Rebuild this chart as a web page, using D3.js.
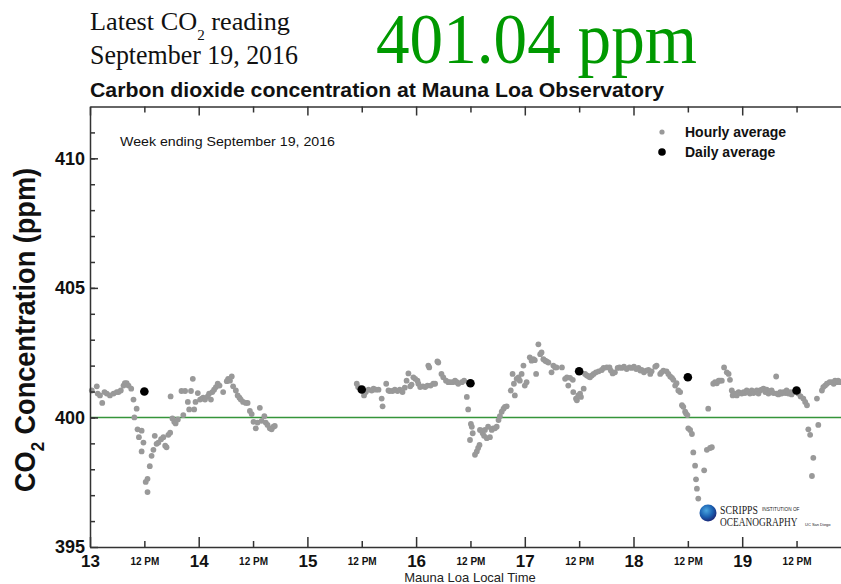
<!DOCTYPE html>
<html><head><meta charset="utf-8">
<script src="https://cdn.jsdelivr.net/npm/d3@7"></script>
<style>body{margin:0;background:#fff;overflow:hidden}svg{display:block}</style>
</head><body>
<svg id="chart" width="841" height="584"></svg>
<script>
// hours since Sept 13 00:00 local time, ppm
const hourlyReadings = [
[0.4,401.04],[1.5,401.20],[1.7,400.92],[2.2,400.85],[2.7,400.56],[3.2,400.98],[3.7,400.92],[4.4,400.85],[5.2,400.92],[5.9,400.98],[6.3,400.98],[6.8,401.04],[7.4,401.23],[7.7,401.32],[8.1,401.32],[8.5,401.23],[9.1,401.11],[9.6,400.69],[9.8,400.00],[10.3,400.34],[10.5,399.54],[10.8,399.24],[11.4,399.49],[11.4,398.69],[11.8,399.03],[12.3,397.51],[12.7,397.63],[12.7,397.12],[13.2,398.12],[13.6,398.52],[14.0,398.75],[14.3,399.29],[14.7,398.98],[15.1,399.03],[15.7,399.16],[16.2,399.24],[16.6,398.91],[16.9,398.85],[17.3,399.33],[17.7,399.41],[17.8,400.81],[18.2,399.96],[18.6,399.83],[18.9,399.77],[19.4,399.92],[20.2,401.02],[20.6,400.09],[21.0,401.02],[21.6,400.60],[21.9,400.31],[22.3,401.02],[22.7,401.49],[23.0,400.31],[23.3,400.60],[23.8,400.94],[24.3,400.69],[24.7,400.73],[25.0,400.76],[25.4,400.69],[26.0,400.81],[26.3,400.92],[26.7,400.69],[27.0,400.98],[27.4,401.07],[27.8,401.17],[28.2,401.30],[28.6,401.23],[29.4,400.98],[30.2,401.40],[30.5,401.49],[30.9,401.42],[31.3,401.58],[31.6,401.20],[32.2,401.04],[32.6,400.85],[33.0,400.76],[33.3,400.69],[33.8,400.60],[34.4,400.56],[34.8,400.56],[35.3,400.25],[35.7,400.13],[36.1,399.83],[36.6,399.58],[37.0,399.80],[37.5,400.37],[37.9,399.87],[38.5,400.05],[38.8,399.80],[39.2,399.71],[39.7,399.58],[40.1,399.54],[40.5,399.64],[40.8,399.67],
[58.9,401.30],[59.2,401.17],[60.5,400.85],[60.9,400.98],[61.5,401.07],[62.2,401.04],[62.6,401.11],[63.1,401.07],[63.7,401.07],[64.4,400.73],[64.6,400.43],[65.4,401.30],[65.9,401.04],[66.2,401.02],[66.8,401.02],[67.3,401.07],[67.9,401.02],[68.4,401.07],[69.0,400.98],[69.5,401.15],[69.9,401.42],[70.3,401.70],[70.7,401.20],[71.0,401.27],[71.4,401.55],[71.8,401.49],[72.3,401.42],[72.5,401.30],[72.9,401.17],[73.5,401.20],[74.0,401.17],[74.5,401.23],[74.7,402.00],[74.9,401.93],[75.2,401.23],[75.8,401.30],[76.2,401.30],[76.7,402.16],[76.9,402.12],[77.6,401.68],[78.0,401.55],[78.6,401.42],[79.1,401.36],[79.5,401.36],[80.1,401.36],[80.6,401.42],[81.0,401.36],[81.3,401.30],[82.1,401.36],[82.6,401.42],[83.2,400.79],[83.5,400.31],[83.9,399.13],[84.1,399.75],[84.3,399.64],[84.5,399.39],[85.0,398.56],[85.4,398.69],[85.7,398.82],[86.0,398.94],[86.1,399.52],[86.5,399.49],[86.7,399.39],[87.0,399.29],[87.2,399.52],[87.6,399.20],[87.9,399.64],[88.3,399.24],[88.7,399.52],[89.0,399.58],[89.4,399.58],[89.8,399.64],[90.2,399.90],[90.5,400.05],[90.9,400.22],[91.3,400.34],[91.6,400.41],[92.0,400.43],[92.9,401.04],[93.3,401.68],[93.6,401.30],[93.8,400.85],[94.2,401.49],[94.6,401.55],[94.9,401.42],[95.3,401.68],[95.7,402.00],[96.0,401.23],[96.4,401.36],[97.1,402.32],[97.5,402.19],[97.9,402.25],[98.2,402.21],[98.5,401.68],[99.0,402.82],[99.4,402.44],[99.7,402.51],[100.1,402.25],[100.5,402.19],[100.8,402.16],[101.2,402.12],[101.9,401.74],[102.3,402.00],[102.7,401.93],[103.0,401.93],
[104.2,401.93],[104.9,401.49],[105.3,401.55],[105.6,401.23],[106.0,401.53],[106.6,401.45],[106.7,400.98],[107.3,400.73],[107.5,400.66],[107.8,400.85],[108.2,400.92],[108.4,400.79],[109.0,401.11],[109.3,401.68],[109.7,401.62],[110.1,401.58],[110.4,401.55],[110.8,401.62],[111.2,401.68],[111.7,401.74],[112.3,401.78],[113.0,401.83],[113.4,401.91],[114.1,401.93],[114.7,401.93],[115.0,401.81],[115.4,401.70],[115.9,401.74],[116.5,401.91],[116.9,401.93],[117.4,401.91],[117.9,401.96],[118.5,401.87],[119.1,401.93],[119.6,401.91],[120.1,401.96],[120.6,401.87],[121.1,401.91],[121.5,401.81],[121.8,401.83],[122.3,401.74],[122.8,401.81],[123.3,401.83],[123.7,401.68],[124.0,401.78],[124.8,401.96],[125.1,402.00],[125.9,401.68],[126.2,401.74],[126.6,401.81],[127.3,401.78],[127.7,401.68],[128.1,401.58],[128.5,401.53],[128.8,401.45],[129.2,401.23],[129.5,401.32],[129.9,401.04],[130.3,400.98],[130.7,400.47],[131.0,400.41],[131.4,400.22],[131.6,400.15],[131.9,400.09],[132.1,399.58],[132.5,399.52],[132.9,399.36],[133.2,398.65],[133.6,398.14],[133.8,397.61],[134.0,397.25],[134.3,396.87],[135.6,397.96],[136.2,398.75],[136.5,400.34],[136.9,398.82],[137.3,398.85],[137.6,401.30],[138.0,401.36],[138.4,401.32],[138.8,401.42],[139.1,401.42],[139.5,401.42],[140.0,401.93],[140.6,401.74],[141.0,401.68],[141.3,401.45],[141.7,401.04],[141.9,400.85],[142.1,400.92],[142.4,400.92],[142.8,400.85],[143.2,400.98],[143.5,400.94],[143.9,400.92],[144.3,400.98],[144.6,400.94],[145.0,401.04],[145.4,400.98],[145.7,400.92],[146.1,401.04],[146.5,400.94],[146.8,400.98],[147.2,401.04],[147.6,400.92],[147.9,401.04],[148.3,401.07],[148.7,401.11],[149.1,400.98],[149.4,401.07],[149.8,400.92],[150.2,401.02],[150.5,401.04],[150.9,400.94],[151.5,401.58],[151.6,400.92],[152.0,400.89],[152.4,400.98],[152.7,400.92],[153.1,400.98],[153.5,400.94],[153.8,401.04],[154.2,400.92],[154.6,400.98],[154.9,400.89],[155.3,400.98],[156.4,400.92],[156.9,400.81],[157.5,400.73],[157.9,400.60],[158.3,400.47],[158.6,399.54],[159.0,399.33],[159.4,397.74],[159.7,398.44],[160.5,400.73],[160.8,399.71],[161.6,401.04],[161.9,401.17],[162.3,401.23],[162.7,401.30],[163.3,401.36],[163.8,401.36],[164.2,401.30],[164.5,401.42],[164.9,401.36],[165.2,401.42],[165.6,401.36]
];
const dailyHours = [12, 60, 84, 108, 132, 156];
const dailyPpm = [401.00, 401.08, 401.32, 401.78, 401.55, 401.04];
const dayLabels = ["13","14","15","16","17","18","19"];
const noonLabel = "12 PM";
const yMajorTicks = [395, 400, 405, 410];
const referenceLevel = 400;
const latestValue = "401.04 ppm";
const latestDate = "September 19, 2016";
const chartTitle = "Carbon dioxide concentration at Mauna Loa Observatory";
const weekNote = "Week ending September 19, 2016";
const xAxisTitle = "Mauna Loa Local Time";

const svg = d3.select("#chart");
const SANS = "'Liberation Sans', Arial, sans-serif";
const SERIF = "'Liberation Serif', 'Times New Roman', serif";
const AX = "#333";

const x = d3.scaleLinear().domain([0, 168]).range([90, 850.9]);
const y = d3.scaleLinear().domain([395, 412]).range([547, 106.5]);

const dayHours = dayLabels.map((d, i) => i * 24);
const noonHours = dayLabels.map((d, i) => i * 24 + 12);

// header texts
const h1 = svg.append("text").attr("x", 90).attr("y", 30)
  .attr("font-family", SERIF).attr("font-size", 26).attr("fill", "#111")
  .attr("textLength", 200).attr("lengthAdjust", "spacingAndGlyphs");
h1.append("tspan").text("Latest CO");
h1.append("tspan").attr("font-size", 15).attr("dy", 10).text("2");
h1.append("tspan").attr("dy", -10).text(" reading");
svg.append("text").attr("x", 90).attr("y", 64)
  .attr("font-family", SERIF).attr("font-size", 27).attr("fill", "#111")
  .attr("textLength", 208).attr("lengthAdjust", "spacingAndGlyphs").text(latestDate);
svg.append("text").attr("x", 376).attr("y", 63)
  .attr("font-family", SERIF).attr("font-size", 72).attr("fill", "#009900")
  .attr("textLength", 321).attr("lengthAdjust", "spacingAndGlyphs").text(latestValue);
svg.append("text").attr("x", 90).attr("y", 97)
  .attr("font-family", SANS).attr("font-weight", "bold").attr("font-size", 20).attr("fill", "#111")
  .attr("textLength", 574).attr("lengthAdjust", "spacingAndGlyphs").text(chartTitle);

// reference line
svg.append("line").attr("x1", x(0)).attr("x2", x(168)).attr("y1", y(referenceLevel)).attr("y2", y(referenceLevel))
  .attr("stroke", "#35953a").attr("stroke-width", 1.6);

// hourly points
svg.append("g").selectAll("circle").data(hourlyReadings).join("circle")
  .attr("cx", d => x(d[0])).attr("cy", d => y(d[1])).attr("r", 2.9).attr("fill", "#999");

// daily points
svg.append("g").selectAll("circle").data(dailyHours).join("circle")
  .attr("cx", d => x(d)).attr("cy", (d, i) => y(dailyPpm[i])).attr("r", 4.3).attr("fill", "#000");

function styleAxis(g) {
  g.selectAll("path,line").attr("stroke", AX).attr("stroke-width", 1.5);
}
// bottom axis
const gb = svg.append("g").attr("transform", `translate(0,${y(395)})`)
  .call(d3.axisBottom(x).tickValues(dayHours).tickSizeInner(-10).tickSizeOuter(0).tickPadding(8)
    .tickFormat((d, i) => dayLabels[i]));
gb.selectAll("text").attr("font-family", SANS).attr("font-weight", "bold").attr("font-size", 17).attr("fill", "#111");
styleAxis(gb);
const gbn = svg.append("g").attr("transform", `translate(0,${y(395)})`)
  .call(d3.axisBottom(x).tickValues(noonHours).tickSizeInner(-6).tickSizeOuter(0).tickPadding(11)
    .tickFormat(() => noonLabel));
gbn.select(".domain").remove();
gbn.selectAll("text").attr("font-family", SANS).attr("font-weight", "bold").attr("font-size", 10).attr("fill", "#111");
styleAxis(gbn);

// top axis
const gt = svg.append("g").attr("transform", `translate(0,${y(412)})`)
  .call(d3.axisTop(x).tickValues(dayHours).tickSizeInner(-9).tickSizeOuter(0).tickFormat(""));
styleAxis(gt);
const gtn = svg.append("g").attr("transform", `translate(0,${y(412)})`)
  .call(d3.axisTop(x).tickValues(noonHours).tickSizeInner(-6).tickSizeOuter(0).tickFormat(""));
gtn.select(".domain").remove();
styleAxis(gtn);

// left axis (ticks point inward)
const gl = svg.append("g").attr("transform", `translate(${x(0)},0)`)
  .call(d3.axisLeft(y).tickValues(yMajorTicks).tickSizeInner(-8).tickSizeOuter(0).tickPadding(5)
    .tickFormat(d3.format("d")));
gl.selectAll("text").attr("font-family", SANS).attr("font-weight", "bold").attr("font-size", 18).attr("fill", "#111");
styleAxis(gl);
const glm = svg.append("g").attr("transform", `translate(${x(0)},0)`)
  .call(d3.axisLeft(y).tickValues(d3.range(396, 412)).tickSizeInner(-5).tickSizeOuter(0).tickFormat(""));
glm.select(".domain").remove();
styleAxis(glm);

// y axis title
const yt = svg.append("text").attr("transform", "translate(35,330) rotate(-90)")
  .attr("text-anchor", "middle").attr("font-family", SANS).attr("font-weight", "bold")
  .attr("font-size", 29).attr("fill", "#111").attr("textLength", 324).attr("lengthAdjust", "spacingAndGlyphs");
yt.append("tspan").text("CO");
yt.append("tspan").attr("font-size", 18).attr("dy", 9).text("2");
yt.append("tspan").attr("dy", -9).text(" Concentration (ppm)");

// x axis title
svg.append("text").attr("x", 470).attr("y", 582).attr("text-anchor", "middle")
  .attr("font-family", SANS).attr("font-size", 13).attr("fill", "#222").text(xAxisTitle);

// week note
svg.append("text").attr("x", 120).attr("y", 146).attr("font-family", SANS).attr("font-size", 13.5)
  .attr("fill", "#111").attr("textLength", 215).attr("lengthAdjust", "spacingAndGlyphs").text(weekNote);

// legend
const legend = [{label: "Hourly average", color: "#999", r: 2.6}, {label: "Daily average", color: "#000", r: 3.8}];
const lg = svg.append("g").attr("transform", "translate(662,132)");
lg.selectAll("circle").data(legend).join("circle").attr("cx", 0).attr("cy", (d, i) => i * 20).attr("r", d => d.r).attr("fill", d => d.color);
lg.selectAll("text").data(legend).join("text").attr("x", 23).attr("y", (d, i) => i * 20 + 5)
  .attr("font-family", SANS).attr("font-weight", "bold").attr("font-size", 14).attr("fill", "#111").text(d => d.label);

// Scripps logo (condensed with transforms so boxes match the drawn glyphs)
const defs = svg.append("defs");
const grad = defs.append("radialGradient").attr("id", "globe").attr("cx", "40%").attr("cy", "35%").attr("r", "65%");
grad.append("stop").attr("offset", "0%").attr("stop-color", "#4aa6e0");
grad.append("stop").attr("offset", "60%").attr("stop-color", "#1a5fb0");
grad.append("stop").attr("offset", "100%").attr("stop-color", "#1b2a7a");
const logo = svg.append("g");
logo.append("circle").attr("cx", 708).attr("cy", 513).attr("r", 8.5).attr("fill", "url(#globe)");
logo.append("text").attr("transform", "translate(720,514) scale(0.75,1)").attr("font-family", SERIF).attr("font-size", 13)
  .attr("fill", "#222").text("SCRIPPS");
logo.append("text").attr("transform", "translate(762,511) scale(1.05,1)").attr("font-family", SANS).attr("font-size", 4.5)
  .attr("fill", "#222").text("INSTITUTION OF");
logo.append("text").attr("transform", "translate(720,526) scale(0.72,1)").attr("font-family", SERIF).attr("font-size", 13)
  .attr("fill", "#222").text("OCEANOGRAPHY");
logo.append("text").attr("transform", "translate(805,526)").attr("font-family", SANS).attr("font-size", 4)
  .attr("fill", "#222").text("UC San Diego");
</script>
</body></html>
